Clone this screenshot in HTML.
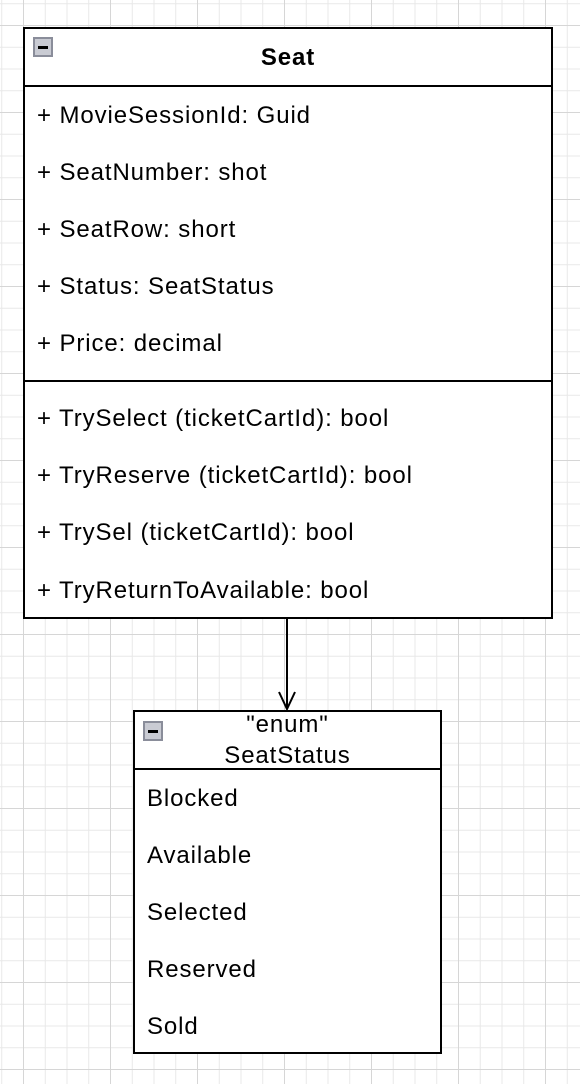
<!DOCTYPE html>
<html><head><style>
html,body{margin:0;padding:0}
body{width:580px;height:1084px;position:relative;overflow:hidden;font-family:"Liberation Sans",Arial,sans-serif;
background-color:#fff;
background-image:linear-gradient(#d6d6d6 1px,transparent 1px),linear-gradient(90deg,#d6d6d6 1px,transparent 1px),linear-gradient(#e8e8e8 1px,transparent 1px),linear-gradient(90deg,#e8e8e8 1px,transparent 1px);
background-size:87px 87px,87px 87px,21.75px 21.75px,21.75px 21.75px;
background-position:0 25px,23px 0,0 3.25px,1.25px 0;}
.box{position:absolute;border:2px solid #000;background:#fff;box-sizing:border-box}
.t{position:absolute;font-size:24px;letter-spacing:0.9px;color:#000;white-space:nowrap;line-height:28px}
.ic{position:absolute;width:20px;height:20px;background:#c9cbd3;border:2px solid #8a8d9a;box-sizing:border-box}
.ic:after{content:"";position:absolute;left:3px;right:3px;top:7px;height:3px;background:#000}
.hl{position:absolute;left:0;right:0;height:2px;background:#000}
</style></head><body>
<div class="box" style="left:23px;top:27px;width:530px;height:592px">
  <div class="ic" style="left:8px;top:8px"></div>
  <div class="t" style="left:0;right:0;top:15px;text-align:center;font-weight:bold">Seat</div>
  <div class="hl" style="top:56px"></div>
  <div class="t" style="left:12px;top:73px">+ MovieSessionId: Guid</div>
  <div class="t" style="left:12px;top:130px">+ SeatNumber: shot</div>
  <div class="t" style="left:12px;top:187px">+ SeatRow: short</div>
  <div class="t" style="left:12px;top:244px">+ Status: SeatStatus</div>
  <div class="t" style="left:12px;top:301px">+ Price: decimal</div>
  <div class="hl" style="top:351px"></div>
  <div class="t" style="left:12px;top:376px">+ TrySelect (ticketCartId): bool</div>
  <div class="t" style="left:12px;top:433px">+ TryReserve (ticketCartId): bool</div>
  <div class="t" style="left:12px;top:490px">+ TrySel (ticketCartId): bool</div>
  <div class="t" style="left:12px;top:548px">+ TryReturnToAvailable: bool</div>
</div>
<svg style="position:absolute;left:0;top:0" width="580" height="1084">
  <line x1="287" y1="619" x2="287" y2="709" stroke="#000" stroke-width="2"/>
  <polyline points="279,692 287,709 295,692" fill="none" stroke="#000" stroke-width="2"/>
</svg>
<div class="box" style="left:133px;top:710px;width:309px;height:344px">
  <div class="ic" style="left:8px;top:9px"></div>
  <div class="t" style="left:0;right:0;top:-1px;text-align:center">"enum"</div>
  <div class="t" style="left:0;right:0;top:30px;text-align:center">SeatStatus</div>
  <div class="hl" style="top:56px"></div>
  <div class="t" style="left:12px;top:73px">Blocked</div>
  <div class="t" style="left:12px;top:130px">Available</div>
  <div class="t" style="left:12px;top:187px">Selected</div>
  <div class="t" style="left:12px;top:244px">Reserved</div>
  <div class="t" style="left:12px;top:301px">Sold</div>
</div>
</body></html>
